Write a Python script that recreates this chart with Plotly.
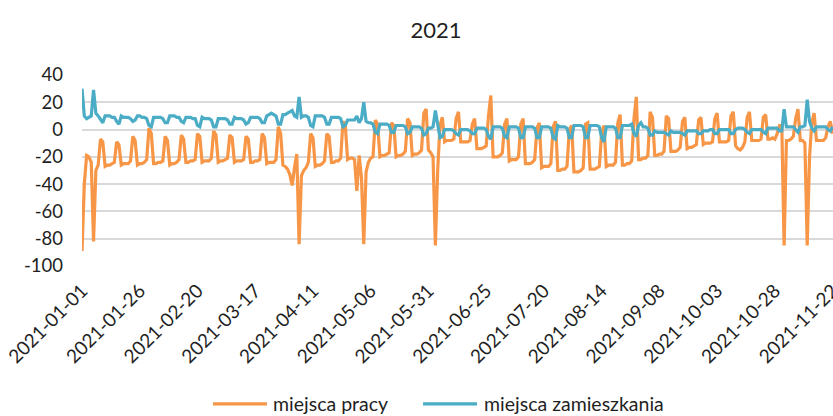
import pandas as pd
import plotly.graph_objects as go

# Daily series, 2021-01-01 .. 2021-11-22 (change vs. baseline, %)
dates = pd.date_range("2021-01-01", "2021-11-22", freq="D")

series_names = ["miejsca pracy", "miejsca zamieszkania"]
series_colors = ["#F79646", "#4BACC6"]

# workplaces: Fri-Sun of the first week, then one row per week (Mon..Sun)
miejsca_pracy = [
    -89, -40, -19,
    -20, -24, -82, -30, -26, -7, -9,
    -27, -26, -26, -25, -24, -9, -11,
    -26, -25, -25, -25, -23, -5, -8,
    -26, -25, -25, -24, -22, 1, -3,
    -25, -25, -24, -24, -23, -5, -8,
    -26, -25, -25, -24, -22, -4, -7,
    -24, -24, -23, -23, -22, -3, -5,
    -24, -23, -23, -23, -21, -1, -4,
    -24, -23, -23, -22, -21, -4, -6,
    -24, -23, -23, -23, -22, -5, -7,
    -24, -24, -23, -23, -22, -3, -6,
    -25, -24, -24, -24, -22, 2, -3,
    -26, -27, -29, -33, -41, -28, -18,
    -84, -34, -30, -28, -24, -3, -6,
    -27, -26, -26, -25, -23, -3, -5,
    -24, -24, -23, -23, -21, 6, 3,
    -22, -21, -21, -22, -45, -19, -35,
    -84, -31, -24, -21, -20, 7, 4,
    -20, -19, -19, -18, -17, 5, 3,
    -20, -19, -19, -18, -16, 8, 5,
    -19, -18, -18, -17, -15, 12, 15,
    -15, -17, -20, -85, -30, 3, 9,
    -9, -8, -8, -8, -7, 8, 13,
    -9, -9, -9, -9, -8, 4, 8,
    -14, -14, -14, -13, -12, 10, 25,
    -20, -20, -20, -19, -17, 4, 8,
    -23, -22, -22, -22, -20, 4, 8,
    -25, -25, -25, -24, -22, 1, 5,
    -28, -27, -27, -27, -25, 2, 6,
    -30, -30, -29, -29, -27, 0, 3,
    -31, -31, -31, -30, -28, 4, 5,
    -29, -29, -29, -28, -27, -2, 3,
    -27, -26, -26, -26, -24, 5, 11,
    -26, -26, -25, -25, -23, 8, 24,
    -22, -22, -21, -21, -19, 13, 9,
    -19, -19, -18, -18, -16, 10, 8,
    -16, -16, -16, -15, -13, 6, 9,
    -14, -13, -13, -12, -11, 7, 9,
    -11, -10, -10, -10, -9, 8, 12,
    -9, -9, -9, -9, -8, 10, 13,
    -12, -14, -15, -13, -9, 9, 13,
    -8, -8, -8, -8, -7, 9, 11,
    -7, -7, -6, -7, -3, 3, 3,
    -85, -8, -8, -7, -5, 8, 15,
    -8, -8, -10, -85, -20, 5, 12,
    -8, -8, -8, -8, -6, 2, 6,
    -3,
]

# residential: same layout as above
miejsca_zamieszkania = [
    30, 10, 8,
    9, 10, 29, 12, 10, 7, 5,
    10, 10, 10, 9, 9, 6, 4,
    10, 9, 9, 9, 8, 6, 7,
    10, 10, 9, 9, 8, 3, 2,
    9, 9, 9, 9, 8, 5, 5,
    10, 10, 10, 9, 9, 6, 5,
    9, 9, 9, 8, 8, 3, 2,
    9, 8, 8, 8, 7, 2, 2,
    8, 8, 8, 8, 7, 4, 4,
    9, 8, 8, 8, 7, 4, 5,
    9, 9, 9, 9, 8, 5, 5,
    10, 11, 12, 11, 10, 4, 4,
    11, 11, 12, 13, 14, 10, 9,
    24, 9, 10, 10, 9, 3, 2,
    10, 10, 10, 10, 9, 4, 4,
    9, 9, 9, 9, 8, 2, 3,
    7, 7, 7, 7, 10, 5, 8,
    20, 6, 5, 5, 4, -2, -3,
    4, 4, 4, 4, 3, -2, -2,
    3, 3, 3, 3, 2, -3, -2,
    2, 2, 2, 2, 1, -4, -3,
    1, 1, 2, 14, 5, -6, -5,
    0, 0, 0, 0, -1, -3, -4,
    0, 0, 0, 0, -1, -3, -3,
    1, 1, 1, 1, 0, -5, -7,
    2, 2, 2, 2, 1, -5, -6,
    2, 2, 2, 2, 1, -6, -6,
    2, 2, 2, 2, 1, -6, -6,
    2, 2, 2, 2, 1, -6, -7,
    3, 2, 2, 2, 1, -6, -6,
    3, 3, 3, 3, 2, -6, -6,
    3, 3, 3, 3, 2, -6, -9,
    2, 2, 2, 2, 1, -6, -6,
    3, 3, 3, 3, 4, -3, -5,
    3, 5, 2, 2, 1, -4, -4,
    -1, -2, -2, -2, -2, -3, -4,
    -1, -2, -2, -2, -2, -3, -4,
    -1, -1, -1, -1, -1, -3, -3,
    -1, -1, -1, 0, 0, -3, -3,
    0, 0, 0, 0, 0, -3, -3,
    0, 1, 1, 1, 0, -2, -3,
    0, 0, 0, 0, 0, -2, -3,
    1, 1, 1, 1, 1, -1, -1,
    15, 2, 2, 2, 2, 0, -2,
    2, 2, 3, 22, 6, 1, -1,
    2, 2, 2, 2, 2, 0, -1,
    2,
]

# axis labels
x_tick_dates = list(dates[::25])
x_tick_text = [d.strftime("%Y-%m-%d") for d in x_tick_dates]
y_ticks = [-100, -80, -60, -40, -20, 0, 20, 40]
y_tick_text = [str(v) for v in y_ticks]

FONT = "Lato"
TEXT = "#1f1f1f"

fig = go.Figure()
for name, values, color in zip(series_names, [miejsca_pracy, miejsca_zamieszkania], series_colors):
    fig.add_trace(go.Scatter(
        x=dates, y=values, mode="lines", name=name,
        line=dict(color=color, width=3.2), showlegend=False,
    ))

# legend row below the axis (line sample + label per series)
legend_y = -0.722
legend_items = [(0.1744, 0.2463), (0.4541, 0.5260)]
for (x0, x1), name, color in zip(legend_items, series_names, series_colors):
    fig.add_shape(type="line", xref="paper", yref="paper",
                  x0=x0, x1=x1, y0=legend_y, y1=legend_y,
                  line=dict(color=color, width=3.2))
    fig.add_annotation(xref="paper", yref="paper", x=x1 + 0.006, y=legend_y,
                       text=name, showarrow=False, xanchor="left", yanchor="middle",
                       font=dict(family=FONT, size=19.5, color=TEXT))

x_end = dates[-1] + pd.Timedelta(hours=4)

fig.update_layout(
    width=833, height=416,
    margin=dict(l=82, r=0, t=75, b=150),
    paper_bgcolor="white", plot_bgcolor="white",
    title=dict(text="2021", x=0.5234, xanchor="center", y=0.928, yanchor="middle",
               font=dict(family=FONT, size=22, color=TEXT)),
    font=dict(family=FONT, size=18, color=TEXT),
)
fig.update_xaxes(
    type="date", range=[dates[0], x_end], automargin=False,
    tickmode="array", tickvals=x_tick_dates, ticktext=x_tick_text,
    tickangle=-45, showgrid=False, zeroline=False, showline=False,
    ticks="", ticklabelstandoff=9, ticklabeloverflow="allow",
    tickfont=dict(family=FONT, size=19, color=TEXT),
)
fig.update_yaxes(
    range=[-100, 40], tickmode="array", tickvals=y_ticks, ticktext=y_tick_text,
    automargin=False,
    showgrid=True, gridcolor="#D9D9D9", gridwidth=1.5,
    zeroline=False, showline=False, ticks="", ticklabelstandoff=18,
    tickfont=dict(family=FONT, size=18.5, color=TEXT),
)

fig.write_html("out.html")
